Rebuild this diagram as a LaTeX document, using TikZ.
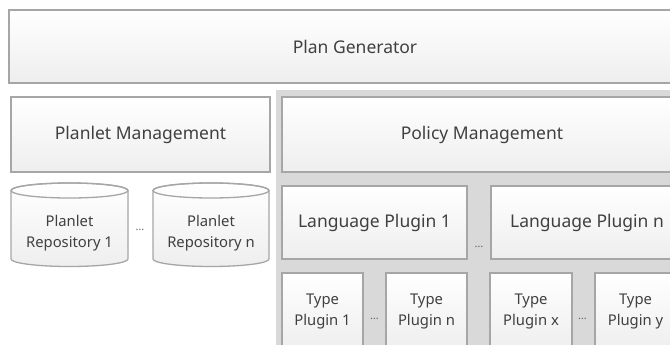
\documentclass[tikz,border=0pt]{standalone}
\usepackage{fontspec}
\setmainfont{Noto Sans}
\definecolor{bordergray}{HTML}{A6A6A6}
\definecolor{panelgray}{HTML}{D9D9D9}
\definecolor{txtgray}{HTML}{404040}
\definecolor{boxbottom}{HTML}{EEEEEE}
\begin{document}
\begin{tikzpicture}[x=1pt,y=1pt,
  box/.style={draw=bordergray, line width=1.3pt, top color=white, bottom color=boxbottom,
    inner sep=0pt, text=txtgray, font=\fontsize{17.5}{21}\selectfont, align=center},
  smallbox/.style={box, font=\fontsize{14.8}{21}\selectfont},
  cyltext/.style={text=txtgray, font=\fontsize{14.8}{21}\selectfont, align=center, inner sep=0pt},
  dots/.style={text=txtgray!80, font=\fontsize{11}{12}\selectfont, inner sep=0pt, anchor=base}]
\useasboundingbox (0,0) rectangle (670,-345);
\clip (0,0) rectangle (670,-345);
\fill[white] (0,0) rectangle (670,-345);
% gray panel
\fill[panelgray] (276,-90) rectangle (690,-360);
% top
\node[box, minimum width=692pt, minimum height=73pt] (pg) at (355,-46.5) {Plan Generator};
\node[box, minimum width=259pt, minimum height=75pt] (plm) at (140.5,-134.5) {Planlet Management};
\node[box, minimum width=400pt, minimum height=75pt] (pom) at (482,-134.5) {Policy Management};
\node[box, minimum width=185pt, minimum height=73pt] (lp1) at (374.5,-222.5) {Language Plugin 1};
\node[box, minimum width=192pt, minimum height=73pt] (lpn) at (587,-222.5) {Language Plugin n};
\node[dots] (d3) at (479,-247) {\dots};
% type plugins
\node[smallbox, minimum width=81pt, minimum height=77pt] (tp1) at (322.5,-311.5) {Type\\Plugin 1};
\node[smallbox, minimum width=81pt, minimum height=77pt] (tpn) at (426.5,-311.5) {Type\\Plugin n};
\node[smallbox, minimum width=82pt, minimum height=77pt] (tpx) at (531,-311.5) {Type\\Plugin x};
\node[smallbox, minimum width=81pt, minimum height=77pt] (tpy) at (635.5,-311.5) {Type\\Plugin y};
\node[dots] (d4) at (374.5,-319) {\dots};
\node[dots] (d5) at (582.5,-319) {\dots};
% cylinders
\foreach \cx/\rx/\nm/\lab in {69.5/58.5/rep1/1, 211/58/repn/n}{
  \path[draw=bordergray, line width=1.3pt, top color=white, bottom color=boxbottom]
    (\cx-\rx,-190.5) -- (\cx-\rx,-259)
    arc[start angle=180, end angle=360, x radius=\rx pt, y radius=7.5pt]
    -- (\cx+\rx,-190.5)
    arc[start angle=0, end angle=180, x radius=\rx pt, y radius=7.5pt] -- cycle;
  \draw[bordergray, line width=1.3pt] (\cx,-190.5) ellipse[x radius=\rx pt, y radius=7.5pt];
  \node[cyltext] (\nm) at (\cx,-233) {Planlet\\Repository \lab};
}
\node[dots] (d1) at (140,-230) {\dots};
\end{tikzpicture}
\end{document}
